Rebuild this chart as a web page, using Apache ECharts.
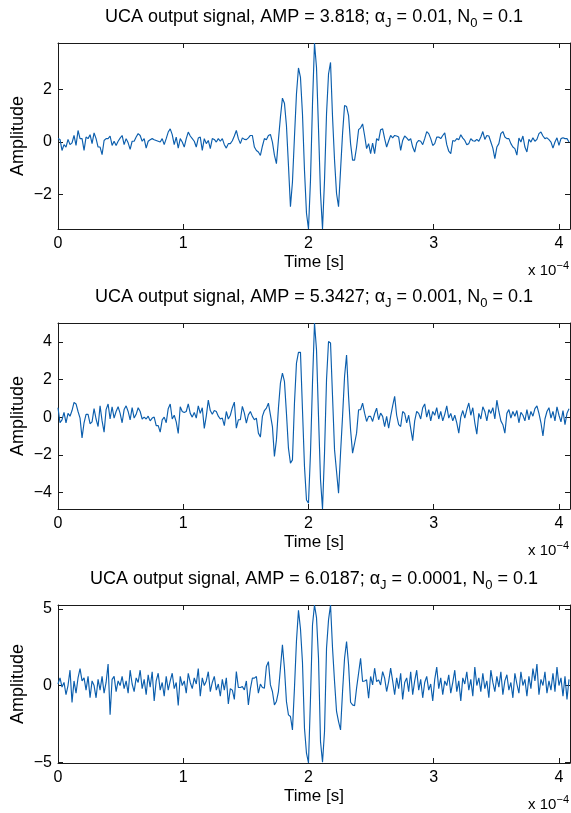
<!DOCTYPE html>
<html><head><meta charset="utf-8">
<script src="https://cdn.jsdelivr.net/npm/echarts@6/dist/echarts.min.js"></script>
<style>html,body{margin:0;padding:0;background:#fff}#c{width:571px;height:813px}</style>
</head><body><div id="c"></div><script>
// time axis in units of 1e-4 s; one value every 2 samples (sample period 0.8 us)
const sampleStep = 0.016;
const xMax = 4.088;
const xTicks = [0, 1, 2, 3, 4];

const titleTexts = [
  'UCA output signal, AMP = 3.818; {g|α}{s|J} = 0.01, N{s|0} = 0.1',
  'UCA output signal, AMP = 5.3427; {g|α}{s|J} = 0.001, N{s|0} = 0.1',
  'UCA output signal, AMP = 6.0187; {g|α}{s|J} = 0.0001, N{s|0} = 0.1'
];

const amp1 = [
  0.13,0.1,-0.32,-0.1,-0.19,0.1,-0.1,-0.03,0.25,-0.13,
  0.44,0.13,0.13,-0.32,0.19,0.13,0.28,-0.06,0.35,0.13,
  -0.19,-0.19,-0.48,0.06,0.13,0.13,0.23,-0.13,0.03,-0.13,
  0.03,0.15,0.25,-0.1,0.13,-0.03,-0.28,0.03,0.03,0.19,
  0.32,0.25,0.03,0.13,-0.23,0.03,0.09,0.13,0.09,0.06,
  0.03,0.0,0.13,-0.1,0.13,0.38,0.5,0.28,-0.1,0.19,
  -0.23,0.13,0.0,-0.19,0.13,0.38,0.23,0.13,0.03,-0.19,
  0.15,0.19,-0.32,0.13,-0.06,0.06,-0.25,0.13,0.1,0.0,
  0.13,0.03,0.13,-0.1,-0.23,-0.06,-0.06,0.05,0.23,
  0.44,0.13,-0.06,0.16,0.10,0.09,0.16,0.25,0.25,-0.19,
  -0.32,-0.38,-0.51,-0.16,0.13,0.09,0.25,0.29,0,-0.5,
  -0.82,0.09,0.95,1.67,1.48,0.63,-0.88,-2.46,-1.52,0.19,
  1.83,2.82,2.46,1.07,-1.07,-2.71,-3.31,-1.45,1.45,3.77,
  2.84,0.5,-1.96,-3.31,-1.45,1.07,2.59,3.03,0.95,-0.69,
  -1.96,-2.46,-1.07,0.32,1.39,1.35,1.01,-0.06,-0.69,-0.69,
  -0.19,0.47,0.54,0.69,0.25,-0.25,-0.06,-0.44,-0.04,-0.44,
  0.13,0.06,0.47,0.5,0.13,-0.19,0.04,0.25,
  0.16,0.25,0.23,0.19,-0.32,0.06,0.23,0.16,0.06,0.13,
  -0.19,-0.38,-0.03,0.06,0.03,-0.1,0.13,0.4,0.32,0.13,
  -0.13,-0.06,0.19,0.19,0.13,0.25,0.35,-0.1,-0.35,-0.44,
  0.06,0.03,0.13,0.09,0.28,0.15,0.06,-0.1,-0.06,0.13,
  0.05,0.03,0.1,0.03,0.19,0.4,0.1,0.25,0.23,0,
  -0.23,-0.63,-0.19,-0.06,0.32,0.4,0.19,0.13,0.13,-0.06,
  -0.19,-0.25,-0.5,0.15,0,0.23,-0.19,-0.38,0.1,0,
  0.16,0.03,0.1,0.32,0.38,0.23,0.13,0.16,0.09,0,
  -0.23,0,0.16,-0.13,0.13,0.16,0.13,0.13,0
];

const amp2 = [
  0.5,-0.3,-0.15,0.25,-0.3,0.2,0.05,0.35,0.78,0.7,
  0.3,-0.05,-1.1,-0.3,0.15,0.15,-0.35,-0.25,0.45,-0.1,
  -0.5,0.6,-0.2,-0.8,0.4,0.7,-0.1,0.55,-0.05,0.3,
  0.55,0.2,-0.3,0.4,0.6,0.3,-0.15,0.5,-0.05,0.15,
  0.5,0.3,-0.1,0.0,-0.1,0.05,-0.2,-0.05,0.0,-0.45,
  -0.45,-0.8,-0.15,0.0,-0.3,0.45,0.7,-0.1,0.1,-0.25,
  -0.87,0.55,0.3,0.25,0.3,0.7,0.2,0.0,0.25,-0.05,
  0.6,0.2,0.5,-0.6,0.05,0.9,0.35,0.15,0.35,0.3,
  0.05,-0.1,-0.05,-0.45,0.3,-0.1,0.1,0.5,0.8,
  -0.59,-0.14,-0.14,0.57,0.21,-0.32,0.12,0.3,0.04,-0.14,
  -0.05,-0.85,-1.06,0.04,0.35,0.48,0.74,0.12,-0.5,-2.09,
  -1.21,0.48,1.81,2.34,1.9,0.21,-1.65,-2.45,-2.27,0.74,
  2.87,3.44,3.44,0.39,-2.62,-4.4,-4.57,-1.91,1.81,5.0,
  3.58,0.04,-3.33,-4.88,-1.91,1.99,4.02,3.94,1.1,-1.74,
  -2.89,-4.04,-1.91,0.04,2.16,3.3,1.1,-0.67,-1.91,-1.4,
  -0.85,0.39,0.39,0.74,0.21,-0.23,0.04,0.04,-0.23,0.18,
  0.48,-0.14,0.21,0.04,-0.5,0.04,-0.59,0.04,
  0.6,1.1,0.1,-0.4,-0.5,0.3,0.2,-0.3,0.1,-0.6,
  -1.25,-0.2,0.3,0.2,-0.1,0.5,0.7,0.0,0.4,-0.2,
  0.3,0.1,0.5,-0.1,0.3,-0.2,0.15,0.6,-0.05,0.2,
  -0.2,0.1,-0.3,-0.85,0.0,0.35,-0.05,0.4,0.75,0.1,
  0.5,-0.3,-0.9,0.2,-0.1,0.55,0.3,-0.2,0.4,0.2,
  0.5,-0.1,0.9,0.3,-0.2,-0.4,-0.85,0.2,0.4,-0.05,
  0.3,0.05,0.35,-0.3,0.25,0.1,-0.2,0.4,-0.15,0.3,
  0.05,0.45,0.6,0.2,-0.3,-1.0,-0.1,0.3,0.5,-0.05,
  0.3,-0.2,0.55,0.1,-0.25,0.35,-0.4,0.2,0.45
];

const amp3 = [
  0.1,0.5,-0.1,0.2,-0.6,0.0,1.0,-1.1,0.3,-0.5,
  0.5,1.1,0.3,0.5,-0.3,0.6,-0.8,0.3,0.0,-0.8,
  0.4,-0.3,0.6,-0.5,0.2,1.4,-1.9,0.4,0.6,-0.4,
  0.3,0.0,0.6,-0.2,0.3,-0.5,1.0,0.1,-0.4,0.5,
  0.2,1.0,-0.2,0.4,-0.6,0.7,-0.1,0.9,-1.0,0.3,
  0.8,-0.3,0.2,-0.7,0.6,-0.3,0.3,0.8,-0.2,0.2,
  -1.3,0.6,0.0,0.3,-0.5,0.8,0.2,-0.2,0.5,0.1,
  1.1,-0.7,0.5,0.0,0.3,0.9,-0.4,0.2,0.6,-0.3,
  0.1,-0.7,0.4,-0.3,0.5,-1.2,-0.2,-0.3,-0.9,
  0.91,-0.13,-0.13,-0.07,-0.28,0.3,-1.26,-0.22,0.48,0.48,
  0.59,-0.5,0.09,-0.13,-0.17,1.24,1.56,0.04,-0.39,-1.26,
  -1.04,-0.39,1.13,2.65,1.13,-1.04,-1.91,-2.02,-2.89,-0.17,
  2.9,4.9,3.7,1.5,-2.78,-4.41,-5.05,-0.83,3.95,5.25,
  4.43,1.78,-3.65,-5.0,-3.0,2.43,4.28,5.25,2.43,0.26,
  -1.69,-2.35,-2.89,-0.39,1.78,2.87,1.35,-1.09,-1.26,-1.32,
  -0.17,0.8,1.78,0.26,0.3,0.37,-0.83,0.59,0.04,1.13,
  0.26,0.37,0.04,0.91,0.48,-0.39,0.26,1.13,
  0.3,-0.6,0.5,-0.2,0.8,-0.9,0.2,0.5,-0.4,0.9,
  -0.6,0.3,1.0,-0.3,0.4,-0.8,0.2,0.6,-0.3,0.1,
  -1.0,0.4,1.2,-0.2,0.5,-0.6,0.3,0.0,0.7,-0.5,
  0.2,1.0,-0.4,0.3,-1.0,0.5,0.1,0.9,-0.3,0.4,
  -0.7,1.2,0.0,0.5,-0.4,0.8,-0.2,0.3,-0.8,1.0,
  0.2,-0.4,0.6,-0.1,0.9,-0.6,0.3,0.7,-0.3,0.2,
  -0.8,0.8,0.1,-0.5,0.9,0.0,0.4,-0.7,0.6,-0.2,
  1.1,0.3,1.4,-0.6,0.4,0.0,0.9,-0.5,0.3,-0.3,
  0.8,-0.4,1.2,0.0,0.5,-0.7,0.6,-0.9,0.4
];

const ampSeries = [amp1, amp2, amp3];
const yRanges = [[-3.31, 3.77], [-4.88, 5.0], [-5.05, 5.25]];
const yTicks = [[-2, 0, 2], [-4, -2, 0, 2, 4], [-5, 0, 5]];

const gridTops = [43, 323, 605];
const gridHeights = [186, 186, 158];
const gridLeft = 58, gridWidth = 512;
const FONT = "'Liberation Sans', Arial, Helvetica, sans-serif";
const lineColor = '#0b5ead';
const frameColor = '#1a1a1a';
const fmtMinus = v => String(v).replace('-', '\u2212');

const grids = [], xAxes = [], yAxes = [], series = [], graphics = [];
for (let i = 0; i < 3; i++) {
  grids.push({left: gridLeft, top: gridTops[i], width: gridWidth, height: gridHeights[i], containLabel: false});
  const axLine = {onZero: false, lineStyle: {color: frameColor, width: 1}};
  const tickX = {inside: true, length: 5, customValues: xTicks, lineStyle: {color: frameColor, width: 1}};
  const tickY = {inside: true, length: 5, customValues: yTicks[i], lineStyle: {color: frameColor, width: 1}};
  xAxes.push({gridIndex: i, type: 'value', min: 0, max: xMax, position: 'bottom',
    axisLine: axLine, axisTick: tickX, splitLine: {show: false},
    axisLabel: {customValues: xTicks, margin: 7, fontSize: 16, color: '#000', fontFamily: FONT}});
  xAxes.push({gridIndex: i, type: 'value', min: 0, max: xMax, position: 'top',
    axisLine: axLine, axisTick: tickX, splitLine: {show: false}, axisLabel: {show: false}});
  yAxes.push({gridIndex: i, type: 'value', min: yRanges[i][0], max: yRanges[i][1], position: 'left',
    axisLine: axLine, axisTick: tickY, splitLine: {show: false},
    axisLabel: {customValues: yTicks[i], margin: 6, fontSize: 16, color: '#000', fontFamily: FONT, formatter: fmtMinus}});
  yAxes.push({gridIndex: i, type: 'value', min: yRanges[i][0], max: yRanges[i][1], position: 'right',
    axisLine: axLine, axisTick: tickY, splitLine: {show: false}, axisLabel: {show: false}});
  series.push({type: 'line', xAxisIndex: 2 * i, yAxisIndex: 2 * i, showSymbol: false, symbol: 'none',
    animation: false, clip: true, lineStyle: {width: 1.15, color: lineColor},
    data: ampSeries[i].map((v, k) => [k * sampleStep, v])});

  const top = gridTops[i], bottom = gridTops[i] + gridHeights[i];
  const cx = gridLeft + gridWidth / 2;
  graphics.push({type: 'text', x: cx, y: top - 26, style: {
    text: titleTexts[i], fontSize: 18, fontFamily: FONT, fill: '#000', lineHeight: 26,
    align: 'center', verticalAlign: 'middle', textAlign: 'center', textVerticalAlign: 'middle',
    rich: {g: {fontSize: 18, fontFamily: FONT, lineHeight: 26}, s: {fontSize: 13, fontFamily: FONT, lineHeight: 8, verticalAlign: 'bottom'}}}});
  graphics.push({type: 'text', x: cx, y: bottom + 33, style: {
    text: 'Time [s]', fontSize: 17, fontFamily: FONT, fill: '#000',
    align: 'center', verticalAlign: 'middle', textAlign: 'center', textVerticalAlign: 'middle'}});
  graphics.push({type: 'text', x: 18, y: top + gridHeights[i] / 2, rotation: Math.PI / 2, style: {
    text: 'Amplitude', fontSize: 18, fontFamily: FONT, fill: '#000',
    align: 'center', verticalAlign: 'middle', textAlign: 'center', textVerticalAlign: 'middle'}});
  graphics.push({type: 'text', x: 569, y: bottom + 42, style: {
    text: 'x 10{p|−4}', fontSize: 15, fontFamily: FONT, fill: '#000', lineHeight: 22,
    align: 'right', verticalAlign: 'middle', textAlign: 'right', textVerticalAlign: 'middle',
    rich: {p: {fontSize: 11, fontFamily: FONT, lineHeight: 4, verticalAlign: 'top'}}}});
}

const chart = echarts.init(document.getElementById('c'), null, {renderer: 'canvas'});
chart.setOption({
  animation: false,
  backgroundColor: '#fff',
  grid: grids, xAxis: xAxes, yAxis: yAxes, series: series,
  graphic: {elements: graphics}
});
</script></body></html>
